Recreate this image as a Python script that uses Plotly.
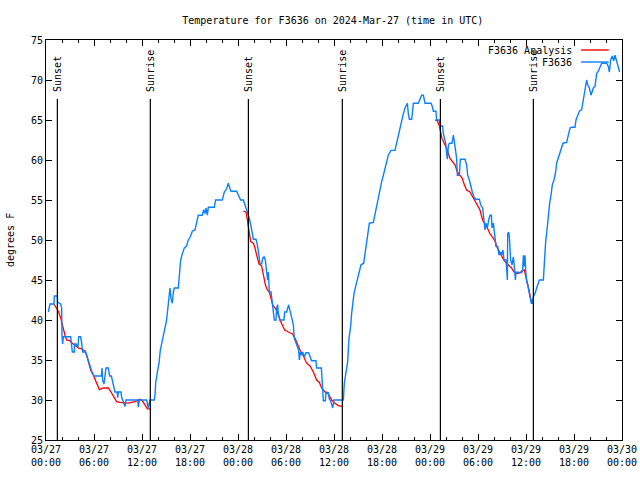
import pandas as pd
import plotly.graph_objects as go

# ---------------- data ----------------
start_time = "2024-03-27 00:00"
end_time = "2024-03-30 00:00"

station_hours = [
    0.29, 0.5, 1.0, 1.04, 1.42, 1.45, 1.83, 1.96, 2.0, 2.08, 2.17, 3.08, 3.17, 3.29, 3.54, 3.56, 3.75, 4.0,
    4.08, 4.33, 4.46, 4.58, 4.96, 5.08, 5.29, 5.58, 5.71, 6.0, 6.92, 7.0, 7.08, 7.25, 7.5, 7.79, 7.96, 8.17,
    8.42, 8.625, 8.9, 8.96, 9.05, 9.375, 9.46, 9.58, 9.875, 10.0, 11.46, 11.54, 11.67, 12.58, 12.67, 12.79,
    13.0, 13.54, 13.625, 13.71, 13.92, 14.125, 14.29, 14.54, 14.79, 15.04, 15.21, 15.375, 15.5, 15.625,
    15.79, 15.92, 16.04, 16.54, 16.67, 16.83, 17.04, 17.29, 17.54, 17.79, 18.04, 18.29, 18.625, 18.83,
    19.04, 19.54, 19.71, 19.875, 20.0, 20.17, 20.29, 21.04, 21.2, 22.04, 22.29, 22.58, 22.79, 23.0, 23.125,
    23.83, 24.04, 24.33, 24.67, 24.79, 25.0, 25.25, 25.42, 25.63, 25.83, 25.92, 26.25, 26.42, 26.58, 26.75,
    26.96, 27.08, 27.25, 27.42, 27.58, 27.71, 27.79, 27.92, 28.13, 28.25, 28.33, 28.54, 28.75, 28.83, 28.96,
    29.04, 29.25, 29.75, 29.83, 30.08, 30.33, 30.5, 30.63, 30.92, 31.04, 31.33, 31.58, 31.67, 31.79, 31.96,
    32.08, 32.29, 32.5, 32.83, 33.0, 33.2, 33.75, 33.83, 34.42, 34.5, 34.58, 34.67, 34.92, 35.0, 35.29,
    35.42, 35.58, 35.75, 35.83, 36.0, 37.17, 37.29, 37.5, 37.71, 37.875, 38.08, 38.2, 38.33, 38.5, 38.71,
    38.92, 39.125, 39.375, 39.71, 39.875, 40.08, 40.29, 40.42, 40.92, 41.125, 41.33, 41.54, 41.75, 41.96,
    42.17, 42.375, 42.58, 42.79, 43.125, 43.625, 43.83, 44.04, 44.25, 44.46, 44.67, 44.875, 45.17, 45.29,
    45.42, 45.71, 45.83, 45.92, 46.54, 46.75, 46.96, 47.17, 47.375, 48.125, 48.29, 48.42, 48.75, 48.83,
    49.17, 49.25, 49.58, 49.67, 49.79, 49.96, 50.08, 50.17, 50.29, 50.42, 50.75, 50.92, 51.0, 51.125,
    51.33, 51.42, 51.67, 51.79, 52.375, 52.58, 52.71, 52.92, 53.08, 53.29, 53.5, 53.67, 54.17, 54.33,
    54.58, 54.75, 54.875, 55.0, 55.17, 55.33, 55.5, 55.67, 55.75, 55.92, 56.04, 56.25, 56.46, 56.625,
    56.83, 56.96, 57.125, 57.25, 57.5, 57.58, 57.67, 57.71, 57.83, 57.92, 58.08, 58.25, 58.42, 58.58,
    58.67, 58.75, 59.46, 59.58, 59.67, 59.79, 59.875, 59.96, 60.08, 60.21, 60.375, 60.5, 60.67, 60.79,
    60.92, 61.125, 61.33, 61.54, 61.67, 62.17, 62.29, 62.46, 62.625, 62.79, 62.96, 63.125, 63.29, 63.5,
    63.71, 63.83, 64.04, 64.25, 64.46, 64.625, 65.08, 65.29, 65.5, 65.71, 66.125, 66.25, 66.46, 66.67,
    66.96, 67.17, 67.375, 67.58, 67.71, 67.92, 68.125, 68.42, 68.625, 68.83, 69.04, 69.25, 69.46, 70.08,
    70.29, 70.42, 70.58, 70.79, 70.96, 71.125, 71.33, 71.54, 71.71,
]
station_temps = [
    41.0, 42.0, 42.0, 43.0, 43.0, 42.2, 42.0, 41.5, 38.1, 37.0, 37.9, 37.9, 37.1, 36.0, 36.0, 37.0, 37.0, 36.6,
    37.9, 37.9, 37.1, 36.0, 36.0, 35.6, 34.9, 34.0, 33.6, 33.0, 33.0, 34.0, 32.5, 32.0, 34.0, 34.0, 33.0, 33.0,
    32.0, 31.0, 31.0, 30.3, 31.0, 31.0, 30.3, 30.0, 29.2, 30.0, 30.0, 29.1, 30.0, 30.0, 29.5, 29.0,
    30.0, 30.0, 30.6, 32.1, 33.5, 34.6, 36.25, 37.5, 38.3, 39.8, 41.25, 42.7, 44.0, 42.7,
    42.1, 43.5, 44.0, 44.0, 46.25, 47.5, 48.3, 49.0, 49.2, 50.0, 50.4, 51.1, 51.25, 52.3,
    53.1, 53.1, 53.8, 53.3, 54.0, 53.1, 54.1, 54.1, 55.0, 55.0, 56.0, 56.4, 57.1, 56.4, 56.1,
    56.1, 55.6, 55.0, 55.0, 54.6, 54.2, 53.3, 52.7, 51.7, 50.8, 50.1, 50.1, 49.4, 48.3, 47.0,
    47.0, 47.7, 47.9, 47.5, 46.0, 45.0, 46.0, 43.5, 43.5, 42.5, 41.25, 40.0, 40.0, 41.5, 41.9,
    40.8, 40.0, 40.0, 41.0, 41.0, 41.9, 41.25, 40.4, 39.4, 37.7, 36.9, 36.25, 35.0, 36.0, 35.6,
    36.0, 35.4, 35.9, 35.9, 35.4, 34.9, 34.9, 34.0, 34.0, 32.1, 30.6, 29.9, 29.9, 31.0, 30.9,
    30.1, 29.9, 29.4, 29.0, 30.0, 30.0, 32.1, 33.3, 34.8, 37.7, 39.2, 40.8, 42.3, 43.3, 44.2,
    45.0, 45.8, 46.9, 47.1, 48.3, 49.6, 50.8, 52.1, 52.2, 53.3, 54.4, 55.4, 56.5, 57.3,
    58.1, 59.0, 60.0, 60.6, 61.2, 61.2, 62.1, 63.1, 64.2, 65.1, 65.8, 66.5, 67.1, 65.8,
    65.1, 65.1, 66.7, 67.1, 67.1, 67.5, 68.1, 68.1, 67.1, 67.1, 66.7, 66.1, 66.1, 65.0,
    65.0, 64.25, 64.25, 63.3, 62.6, 62.1, 60.8, 60.1, 61.7, 62.1, 62.1, 63.1, 62.6, 61.5,
    60.2, 58.1, 58.1, 60.1, 60.1, 59.4, 58.1, 57.5, 56.7, 56.0, 55.4, 55.1, 55.1, 54.4,
    54.0, 52.3, 51.25, 52.1, 51.5, 52.5, 53.1, 53.1, 51.5, 52.1, 51.25, 49.2, 49.2, 48.1,
    48.5, 48.1, 48.75, 47.5, 47.5, 45.8, 45.0, 50.8, 51.0, 50.4, 47.5, 46.9, 47.9, 46.25,
    45.0, 46.0, 45.9, 46.25, 48.1, 46.7, 48.1, 46.25, 44.8, 44.4, 43.75, 42.9, 42.1, 42.1,
    42.9, 43.3, 44.0, 44.7, 45.0, 45.0, 47.9, 49.8, 51.25, 53.5, 54.6, 55.6, 56.9, 57.5,
    58.5, 59.6, 60.2, 60.8, 61.6, 62.1, 62.2, 63.1, 64.0, 64.1, 64.1, 65.0, 65.5, 66.1,
    66.3, 67.5, 69.2, 70.0, 69.4, 69.0, 68.1, 69.0, 69.2, 70.8, 71.1, 71.7, 72.1, 72.1,
    71.7, 71.0, 72.5, 73.0, 72.4, 73.1, 72.3, 71.5, 71.0,
]

# analysis series: three evening-to-morning segments separated by None gaps
analysis_hours = [
    1.0, 1.33, 1.54, 1.83, 2.08, 2.375, 2.58, 3.0, 3.29, 3.58, 4.04, 4.46, 4.875, 5.08, 5.29, 5.58, 5.92,
    6.25, 6.67, 7.17, 7.79, 8.125, 8.42, 8.83, 9.25, 9.875, 10.29, 10.71, 11.125, 11.75, 12.04, 12.375,
    12.67, 13.0, None,
    24.67, 25.0, 25.17, 25.33, 25.58, 25.92, 26.125, 26.33, 26.625, 26.96, 27.17, 27.42, 27.67, 27.92,
    28.125, 28.33, 28.625, 28.92, 29.25, 29.54, 29.83, 30.29, 30.83, 31.125, 31.42, 31.75, 32.17, 32.58,
    33.0, 33.42, 33.83, 34.17, 34.46, 34.875, 35.29, 35.71, 36.125, 36.54, 37.04, None,
    48.625, 48.92, 49.17, 49.33, 49.5, 49.67, 49.875, 50.17, 50.5, 50.83, 51.125, 51.42, 51.75, 52.04,
    52.29, 52.58, 53.0, 53.33, 53.625, 54.04, 54.25, 54.46, 54.67, 55.0, 55.29, 55.5, 55.79, 56.125,
    56.33, 56.67, 56.875, 57.17, 57.46, 57.79, 58.2, 58.5, 58.83, 59.25, 59.58, 59.79, 59.96, 60.17,
    60.375, 60.58, 60.71,
]
analysis_temps = [
    42.0, 41.5, 41.1, 40.3, 39.2, 38.1, 37.5, 37.4, 37.1, 36.9, 36.5, 36.4, 36.1, 35.6, 34.8, 33.75, 33.1,
    32.3, 31.3, 31.5, 31.5, 31.0, 30.5, 29.8, 29.7, 29.6, 29.6, 29.7, 29.8, 30.1, 29.9, 29.4,
    28.9, 28.9, None,
    53.6, 53.5, 52.5, 51.25, 49.8, 49.6, 49.0, 48.1, 47.0, 46.75, 45.6, 44.4, 43.75, 43.5,
    42.7, 41.9, 41.5, 41.0, 40.0, 39.4, 38.75, 38.5, 38.25, 37.7, 36.9, 36.25, 35.5, 34.6,
    34.25, 33.5, 32.5, 32.2, 31.5, 31.0, 30.75, 30.0, 29.6, 29.3, 29.2, None,
    65.0, 64.9, 64.25, 63.3, 62.7, 62.3, 61.9, 61.25, 60.2, 59.8, 59.4, 58.5, 58.0, 57.7,
    56.9, 56.25, 56.0, 55.4, 55.0, 54.25, 53.75, 52.9, 52.3, 51.9, 51.25, 50.75, 50.4, 49.9,
    49.2, 48.5, 48.1, 47.6, 47.2, 46.9, 46.5, 46.0, 45.8, 45.9, 46.2, 46.25, 45.6, 44.7,
    43.75, 42.7, 42.1,
]

sun_event_hours = [1.42, 13.04, 25.3, 37.04, 49.3, 60.92]
sun_event_labels = ["Sunset", "Sunrise", "Sunset", "Sunrise", "Sunset", "Sunrise"]

station_name = "F3636"
analysis_name = "F3636 Analysis"
title_text = "Temperature for F3636 on 2024-Mar-27 (time in UTC)"
y_title = "degrees F"

# ---------------- helpers ----------------
base = pd.Timestamp(start_time)


def to_time(hours):
    return [None if h is None else base + pd.Timedelta(hours=h) for h in hours]


FONT = "DejaVu Sans Mono"
BLUE = "#0a80ff"
RED = "#ff0000"

fig = go.Figure()
fig.add_trace(go.Scatter(
    x=to_time(analysis_hours), y=analysis_temps, mode="lines", name=analysis_name,
    line=dict(color=RED, width=1.3), connectgaps=False, showlegend=False,
))
fig.add_trace(go.Scatter(
    x=to_time(station_hours), y=station_temps, mode="lines", name=station_name,
    line=dict(color=BLUE, width=1.4), showlegend=False,
))

# sunrise / sunset markers
for h, lab in zip(sun_event_hours, sun_event_labels):
    t = base + pd.Timedelta(hours=h)
    fig.add_shape(type="line", xref="x", yref="paper", x0=t, x1=t, y0=0, y1=0.8525,
                  line=dict(color="black", width=1.2))
    fig.add_annotation(x=t, y=0.866, xref="x", yref="paper", text=lab, textangle=-90,
                       showarrow=False, xanchor="center", yanchor="bottom",
                       font=dict(family=FONT, size=10, color="black"))

# gnuplot-style legend (text left, line sample right)
legend_rows = [(analysis_name, RED, 0.975), (station_name, BLUE, 0.945)]
for name, col, yp in legend_rows:
    fig.add_annotation(x=0.917, y=yp, xref="paper", yref="paper", text=name, showarrow=False,
                       xanchor="right", yanchor="middle",
                       font=dict(family=FONT, size=10, color="black"))
    fig.add_shape(type="line", xref="paper", yref="paper", x0=0.929, x1=0.977, y0=yp, y1=yp,
                  line=dict(color=col, width=1.4))

# y axis title
fig.add_annotation(x=-0.0625, y=0.5, xref="paper", yref="paper", text=y_title, textangle=-90,
                   showarrow=False, xanchor="center", yanchor="middle",
                   font=dict(family=FONT, size=10, color="black"))

fig.update_layout(
    width=640, height=480,
    margin=dict(l=46, r=18, t=40, b=40, autoexpand=False),
    paper_bgcolor="white", plot_bgcolor="white",
    font=dict(family=FONT, size=10, color="black"),
    title=dict(text=title_text, x=0.52, xanchor="center", y=0.958, yanchor="middle",
               xref="container", yref="container", automargin=False,
               font=dict(family=FONT, size=10, color="black")),
    showlegend=False,
)
fig.update_xaxes(
    type="date", range=[pd.Timestamp(start_time), pd.Timestamp(end_time)],
    tick0=pd.Timestamp(start_time), dtick=6 * 3600 * 1000, tickformat="%m/%d<br>%H:%M",
    ticks="inside", ticklen=6, tickcolor="black", tickwidth=1,
    minor=dict(dtick=2 * 3600 * 1000, ticks="inside", ticklen=3, tickcolor="black", showgrid=False),
    showline=True, linecolor="black", linewidth=1, mirror="ticks",
    showgrid=False, zeroline=False, automargin=False,
    tickfont=dict(family=FONT, size=10, color="black"),
)
fig.update_yaxes(
    range=[25, 75], tick0=25, dtick=5,
    ticks="inside", ticklen=6, tickcolor="black", tickwidth=1,
    showline=True, linecolor="black", linewidth=1, mirror="ticks",
    showgrid=False, zeroline=False, automargin=False,
    tickfont=dict(family=FONT, size=10, color="black"),
)

fig.write_html("out.html", config={"displayModeBar": False},
               post_script="document.body.style.margin='0px';")
